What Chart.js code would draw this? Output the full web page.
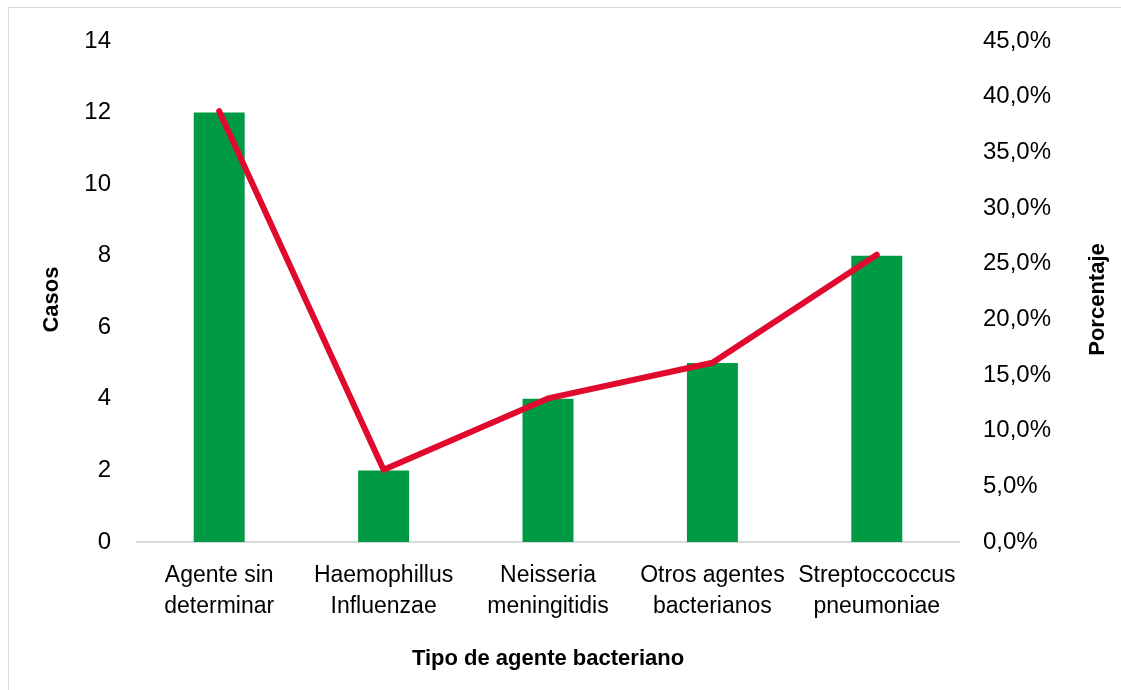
<!DOCTYPE html>
<html>
<head>
<meta charset="utf-8">
<script src="https://cdn.jsdelivr.net/npm/chart.js@4.4.1/dist/chart.umd.min.js"></script>
<style>
  html, body { margin: 0; padding: 0; background: #ffffff; }
  #frame { position: absolute; left: 8px; top: 7px; width: 1130px; height: 700px; border: 1px solid #d9d9d9; box-sizing: border-box; }
  #wrap { position: absolute; left: 0; top: 0; width: 1121px; height: 690px; }
</style>
</head>
<body>
<div id="frame"></div>
<div id="wrap"><canvas id="c" width="1121" height="690"></canvas></div>
<script>
const categories = [
  ["Agente sin", "determinar"],
  ["Haemophillus", "Influenzae"],
  ["Neisseria", "meningitidis"],
  ["Otros agentes", "bacterianos"],
  ["Streptoccoccus", "pneumoniae"]
];
const casos = [12, 2, 4, 5, 8];
const porcentaje = [38.7, 6.5, 12.9, 16.1, 25.8];
const leftTitle = "Casos";
const rightTitle = "Porcentaje";
const xTitle = "Tipo de agente bacteriano";

const tickFamily = "'Liberation Sans Narrow', 'Arial Narrow', 'Liberation Sans', Arial, sans-serif";
const titleFamily = "'Liberation Sans Narrow', 'Arial Narrow', 'Liberation Sans', Arial, sans-serif";

const yTitles = {
  id: 'yTitles',
  afterDraw(chart) {
    const ctx = chart.ctx;
    const ca = chart.chartArea;
    const cy = (ca.top + ca.bottom) / 2 + 8;
    ctx.save();
    ctx.font = "bold 22px " + titleFamily;
    ctx.fillStyle = "#000000";
    ctx.textAlign = "center";
    ctx.textBaseline = "middle";
    [[leftTitle, 52], [rightTitle, 1098]].forEach(([t, x]) => {
      ctx.save();
      ctx.translate(x, cy);
      ctx.rotate(-Math.PI / 2);
      ctx.fillText(t, 0, 0);
      ctx.restore();
    });
    ctx.restore();
  }
};

new Chart(document.getElementById('c'), {
  data: {
    labels: categories,
    datasets: [
      {
        type: 'line',
        label: 'Porcentaje',
        data: porcentaje,
        yAxisID: 'y1',
        borderColor: '#E10A2E',
        borderWidth: 6,
        pointRadius: 0,
        borderCapStyle: 'round',
        borderJoinStyle: 'round',
        tension: 0,
        order: 0
      },
      {
        type: 'bar',
        label: 'Casos',
        data: casos,
        yAxisID: 'y',
        backgroundColor: '#009A44',
        barPercentage: 0.31,
        categoryPercentage: 1.0,
        order: 1
      }
    ]
  },
  options: {
    responsive: false,
    animation: false,
    devicePixelRatio: 1,
    layout: { padding: { top: 41, left: 0, right: 0, bottom: 0 } },
    plugins: { legend: { display: false }, tooltip: { enabled: false } },
    scales: {
      x: {
        position: 'bottom',
        grid: { display: false, drawTicks: false },
        border: { display: true, color: '#d9d9d9', width: 2 },
        ticks: { color: '#000', font: { family: tickFamily, size: 23, lineHeight: 1.35 }, padding: 18, maxRotation: 0, autoSkip: false },
        title: { display: true, text: xTitle, color: '#000', font: { family: titleFamily, size: 22, weight: 'bold', lineHeight: 1.2 }, padding: { top: 0, bottom: 18 } },
        afterFit(scale) { scale.height = 148; }
      },
      y: {
        position: 'left',
        min: 0, max: 14,
        grid: { display: false, drawTicks: false },
        border: { display: false },
        ticks: { stepSize: 2, color: '#000', font: { family: tickFamily, size: 24 }, padding: 26 },
        afterFit(scale) { scale.width = 137; }
      },
      y1: {
        position: 'right',
        min: 0, max: 45,
        grid: { display: false, drawTicks: false },
        border: { display: false },
        ticks: {
          stepSize: 5, color: '#000', font: { family: tickFamily, size: 24 }, padding: 24,
          callback: v => v.toFixed(1).replace('.', ',') + '%'
        },
        afterFit(scale) { scale.width = 162; }
      }
    }
  },
  plugins: [yTitles]
});
</script>
</body>
</html>
